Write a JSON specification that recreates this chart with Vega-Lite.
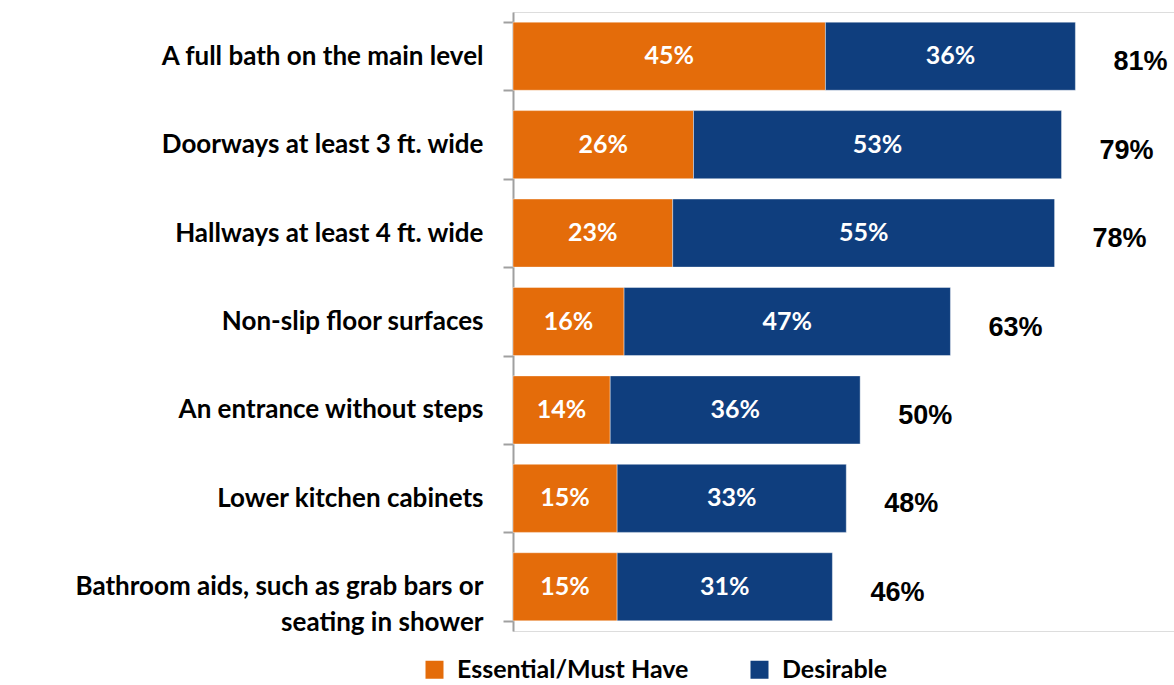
{
  "$schema": "https://vega.github.io/schema/vega-lite/v6.json",
  "width": 661,
  "height": 619,
  "autosize": {"type": "none"},
  "padding": {"left": 513, "top": 12, "right": 0, "bottom": 54},
  "background": "white",
  "data": {
    "values": [
      {"item": "A full bath on the main level", "series": "Essential/Must Have", "value": 45},
      {"item": "A full bath on the main level", "series": "Desirable", "value": 36},
      {"item": "Doorways at least 3 ft. wide", "series": "Essential/Must Have", "value": 26},
      {"item": "Doorways at least 3 ft. wide", "series": "Desirable", "value": 53},
      {"item": "Hallways at least 4 ft. wide", "series": "Essential/Must Have", "value": 23},
      {"item": "Hallways at least 4 ft. wide", "series": "Desirable", "value": 55},
      {"item": "Non-slip floor surfaces", "series": "Essential/Must Have", "value": 16},
      {"item": "Non-slip floor surfaces", "series": "Desirable", "value": 47},
      {"item": "An entrance without steps", "series": "Essential/Must Have", "value": 14},
      {"item": "An entrance without steps", "series": "Desirable", "value": 36},
      {"item": "Lower kitchen cabinets", "series": "Essential/Must Have", "value": 15},
      {"item": "Lower kitchen cabinets", "series": "Desirable", "value": 33},
      {"item": "Bathroom aids, such as grab bars or seating in shower", "series": "Essential/Must Have", "value": 15},
      {"item": "Bathroom aids, such as grab bars or seating in shower", "series": "Desirable", "value": 31}
    ]
  },
  "encoding": {
    "y": {
      "field": "item",
      "type": "nominal",
      "sort": null,
      "scale": {"paddingInner": 0.23, "paddingOuter": 0.115},
      "axis": {
        "title": null,
        "domainColor": "#A0A0A0",
        "domainWidth": 2,
        "tickColor": "#A0A0A0",
        "tickWidth": 2,
        "tickSize": 10,
        "tickBand": "extent",
        "labelFont": "Lato",
        "labelFontWeight": "bold",
        "labelFontSize": 26,
        "labelColor": "black",
        "labelPadding": 20,
        "labelLimit": 600,
        "labelLineHeight": 36,
        "labelExpr": "datum.value == 'Bathroom aids, such as grab bars or seating in shower' ? ['Bathroom aids, such as grab bars or', 'seating in shower'] : datum.value"
      }
    }
  },
  "layer": [
    {
      "mark": {"type": "bar", "stroke": "white", "strokeOpacity": 0.4, "strokeWidth": 1},
      "encoding": {
        "x": {
          "field": "value",
          "type": "quantitative",
          "stack": "zero",
          "scale": {"domain": [0, 95.2], "nice": false},
          "axis": null
        },
        "color": {
          "field": "series",
          "type": "nominal",
          "sort": ["Essential/Must Have", "Desirable"],
          "scale": {"domain": ["Essential/Must Have", "Desirable"], "range": ["#E46C0A", "#0F3E7E"]},
          "legend": {
            "title": null,
            "orient": "none",
            "direction": "horizontal",
            "legendX": -91,
            "legendY": 645,
            "symbolType": "square",
            "symbolSize": 324,
            "symbolStrokeWidth": 0,
            "labelFont": "Lato",
            "labelFontWeight": "bold",
            "labelFontSize": 25,
            "labelColor": "black",
            "labelOffset": 10,
            "columnPadding": 58,
            "labelLimit": 400
          }
        },
        "order": {"field": "series", "sort": "descending"}
      }
    },
    {
      "mark": {"type": "text", "color": "white", "font": "Lato", "fontWeight": "bold", "fontSize": 25, "align": "center", "baseline": "middle"},
      "encoding": {
        "x": {"field": "value", "type": "quantitative", "stack": "zero", "bandPosition": 0.5},
        "detail": {"field": "series"},
        "order": {"field": "series", "sort": "descending"},
        "text": {"field": "label", "type": "nominal"},
        "tooltip": null
      },
      "transform": [{"calculate": "datum.value + '%'", "as": "label"}]
    },
    {
      "transform": [
        {"aggregate": [{"op": "sum", "field": "value", "as": "total"}], "groupby": ["item"]},
        {"calculate": "datum.total + '%'", "as": "label"}
      ],
      "mark": {"type": "text", "color": "black", "font": "Liberation Sans", "fontWeight": "bold", "fontSize": 27, "align": "left", "baseline": "middle", "dx": 38, "dy": 6},
      "encoding": {
        "x": {"field": "total", "type": "quantitative"},
        "text": {"field": "label", "type": "nominal"}
      }
    }
  ]
}
